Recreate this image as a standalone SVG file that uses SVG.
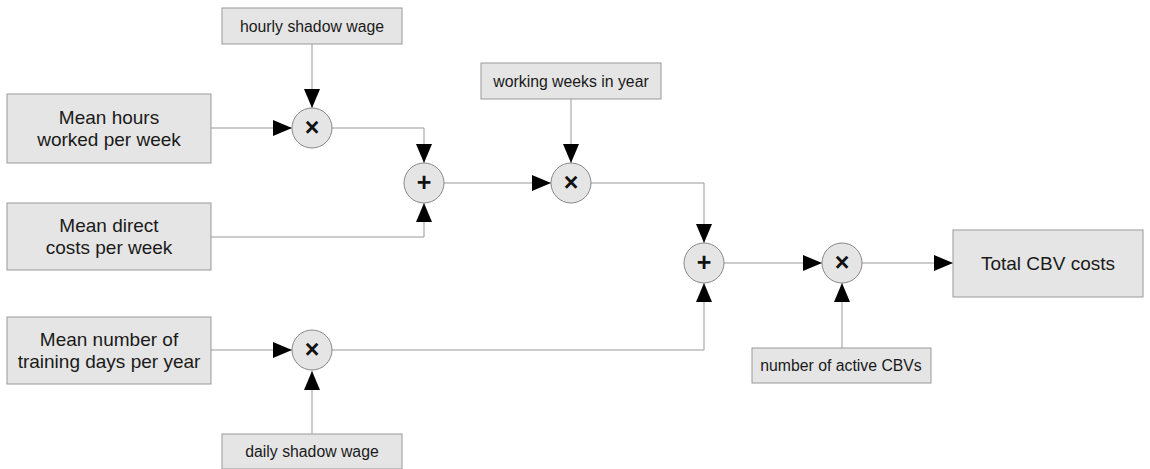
<svg xmlns="http://www.w3.org/2000/svg" width="1150" height="469" viewBox="0 0 1150 469">
<style>
.box{fill:#e5e5e5;stroke:#999;stroke-width:1}
.op{fill:#e5e5e5;stroke:#888;stroke-width:1}
.big{font-family:"Liberation Sans",Arial,sans-serif;font-size:19px;fill:#1a1a1a;text-anchor:middle}
.small{font-family:"Liberation Sans",Arial,sans-serif;font-size:15.8px;fill:#1a1a1a;text-anchor:middle}
.sym{font-family:"Liberation Sans",Arial,sans-serif;font-size:25px;font-weight:bold;fill:#111;text-anchor:middle}
.c{fill:none;stroke:#999;stroke-width:1}
</style>
<defs>
<marker id="ah" markerUnits="userSpaceOnUse" markerWidth="20" markerHeight="16" refX="19" refY="8" orient="auto">
<path d="M0,0 L19,8 L0,16 Z" fill="#000"/>
</marker>
</defs>
<g id="connectors">
<path class="c" d="M312,44 V108" marker-end="url(#ah)"/>
<path class="c" d="M211,128 H292" marker-end="url(#ah)"/>
<path class="c" d="M332,128 H424 V163" marker-end="url(#ah)"/>
<path class="c" d="M211,237 H424 V203" marker-end="url(#ah)"/>
<path class="c" d="M444,183 H551" marker-end="url(#ah)"/>
<path class="c" d="M571,99 V163" marker-end="url(#ah)"/>
<path class="c" d="M591,183 H704 V243" marker-end="url(#ah)"/>
<path class="c" d="M211,350 H292" marker-end="url(#ah)"/>
<path class="c" d="M312,434 V371" marker-end="url(#ah)"/>
<path class="c" d="M332,350 H704 V283" marker-end="url(#ah)"/>
<path class="c" d="M724,263 H822" marker-end="url(#ah)"/>
<path class="c" d="M842,348 V283" marker-end="url(#ah)"/>
<path class="c" d="M862,263 H953" marker-end="url(#ah)"/>
</g>
<g id="hourly-shadow-wage"><rect class="box" x="222" y="8" width="180" height="36"/><text class="small" x="312" y="32">hourly shadow wage</text></g>
<g id="mean-hours"><rect class="box" x="7" y="94" width="204" height="69"/><text class="big" x="109" y="124">Mean hours</text><text class="big" x="109" y="146">worked per week</text></g>
<g id="mean-direct"><rect class="box" x="7" y="203" width="204" height="67"/><text class="big" x="109" y="232">Mean direct</text><text class="big" x="109" y="254">costs per week</text></g>
<g id="mean-training"><rect class="box" x="7" y="317" width="204" height="67"/><text class="big" x="109" y="346">Mean number of</text><text class="big" x="109" y="368">training days per year</text></g>
<g id="daily-shadow-wage"><rect class="box" x="222" y="434" width="180" height="35"/><text class="small" x="312" y="457">daily shadow wage</text></g>
<g id="working-weeks"><rect class="box" x="481" y="63" width="180" height="36"/><text class="small" x="571" y="87">working weeks in year</text></g>
<g id="active-cbvs"><rect class="box" x="752" y="348" width="179" height="35"/><text class="small" x="841" y="371">number of active CBVs</text></g>
<g id="total"><rect class="box" x="953" y="230" width="190" height="67"/><text class="big" x="1048" y="270">Total CBV costs</text></g>
<g id="mul1"><circle class="op" cx="312" cy="128" r="20"/><text class="sym" x="312" y="136">×</text></g>
<g id="add1"><circle class="op" cx="424" cy="183" r="20"/><text class="sym" x="424" y="191">+</text></g>
<g id="mul2"><circle class="op" cx="571" cy="183" r="20"/><text class="sym" x="571" y="191">×</text></g>
<g id="add2"><circle class="op" cx="704" cy="263" r="20"/><text class="sym" x="704" y="271">+</text></g>
<g id="mul3"><circle class="op" cx="842" cy="263" r="20"/><text class="sym" x="842" y="271">×</text></g>
<g id="mul4"><circle class="op" cx="312" cy="350" r="20"/><text class="sym" x="312" y="358">×</text></g>
</svg>
